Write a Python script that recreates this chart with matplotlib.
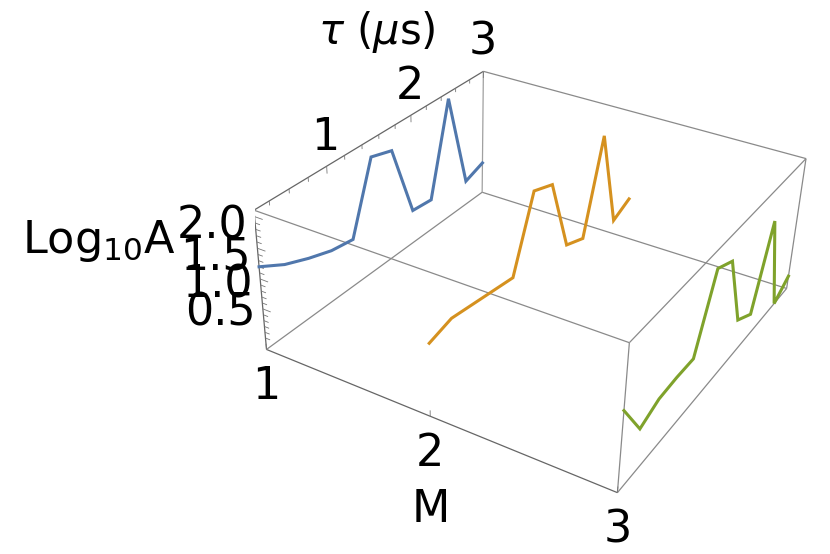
import numpy as np
import matplotlib
matplotlib.use('Agg')
import matplotlib.pyplot as plt
from mpl_toolkits.mplot3d import proj3d

# data
tau = [0.25, 0.5, 0.75, 1.0, 1.25, 1.5, 1.75, 2.0, 2.25, 2.5, 2.75, 3.0]
log_a_m1 = [1.2, 0.97, 0.81, 0.68, 0.62, 1.81, 1.7, 0.4, 0.36, 1.99, 0.25, 0.38]
log_a_m2 = [1.0, 1.1, 1.04, 0.98, 0.92, 2.09, 1.96, 0.69, 0.55, 2.11, 0.38, 0.54]
log_a_m3 = [1.1, 0.47, 0.61, 0.63, 0.62, 1.78, 1.63, 0.37, 0.18, 1.52, -0.2, 0.03]
m_values = [1, 2, 3]
line_colors = ['#5077AC', '#D5911F', '#7FA22B']

m_ticks = [1, 2, 3]
tau_major = [1, 2, 3]
tau_minor = [0.4, 0.6, 0.8, 1.2, 1.4, 1.6, 1.8, 2.2, 2.4, 2.6, 2.8]
z_major = [0.5, 1.0, 1.5, 2.0]
z_minor = [0.0, 0.1, 0.2, 0.3, 0.4, 0.6, 0.7, 0.8, 0.9, 1.1, 1.2, 1.3, 1.4,
           1.6, 1.7, 1.8, 1.9]

m_lim = (1, 3)
tau_lim = (0.25, 3)
z_lim = (-0.2, 2.1)

fig = plt.figure(figsize=(8.3, 5.54), dpi=100)
ax = fig.add_axes([0.3070, 0.0280, 0.6714, 1.0058], projection='3d')
ax.computed_zorder = False
ax.set_xlim(*m_lim)
ax.set_ylim(*tau_lim)
ax.set_zlim(*z_lim)
ax.view_init(30.905, -60.475, -2.108)
ax.set_proj_type('persp', focal_length=0.444)
ax.set_box_aspect((2.489, 2.497, 1))
ax.set_axis_off()


def seg(p, q, color='#8a8a8a', lw=0.9):
    ax.plot([p[0], q[0]], [p[1], q[1]], [p[2], q[2]], color=color, lw=lw,
            solid_capstyle='butt', zorder=1)


m0, m1 = m_lim
t0, t1 = tau_lim
z0, z1 = z_lim

# the box, edges carrying ticks are darker
seg((m0, t0, z1), (m0, t1, z1), '#666666')
seg((m0, t0, z0), (m0, t0, z1), '#666666')
seg((m0, t0, z0), (m1, t0, z0), '#666666')
seg((m0, t0, z1), (m1, t0, z1))
seg((m1, t0, z1), (m1, t1, z1))
seg((m0, t1, z1), (m1, t1, z1))
seg((m0, t0, z0), (m0, t1, z0))
seg((m1, t0, z0), (m1, t1, z0))
seg((m0, t1, z0), (m1, t1, z0))
seg((m0, t1, z0), (m0, t1, z1), '#a0a0a0')
seg((m1, t0, z0), (m1, t0, z1))
seg((m1, t1, z0), (m1, t1, z1))

# ticks
for t in tau_major:
    seg((m0, t, z1), (m0, t, z1 - 0.12), '#777777', 0.6)
for t in tau_minor:
    seg((m0, t, z1), (m0, t, z1 - 0.07), '#777777', 0.6)
for m in m_ticks:
    seg((m, t0, z0), (m, t0, z0 + 0.1), '#777777', 0.6)
for z in z_major:
    seg((m0, t0, z), (m0 + 0.05, t0, z), '#777777', 0.6)
for z in z_minor:
    seg((m0, t0, z), (m0 + 0.03, t0, z), '#777777', 0.6)

# series
for m, vals, c in zip(m_values, [log_a_m1, log_a_m2, log_a_m3], line_colors):
    ax.plot([m] * len(tau), tau, vals, color=c, lw=2.2, zorder=3,
            solid_joinstyle='miter')


def tick_label(x, y, z, text, dx, dy, ha='center'):
    px, py, _ = proj3d.proj_transform(x, y, z, ax.get_proj())
    ax.annotate(text, (px, py), xytext=(dx, dy), textcoords='offset pixels',
                ha=ha, va='center', fontsize=32, color='black')


for t in tau_major:
    tick_label(m0, t, z1, str(t), -1, 29)
for m in m_ticks:
    tick_label(m, t0, z0, str(m), 0, -37)
# the reference packs these labels a little tighter than their ticks
for z, dy in zip(z_major, [-4, -6, -9, -9]):
    tick_label(m0, t0, z, '%.1f' % z, -7, dy, ha='right')

fig.text(99 / 830, 1 - 241 / 554, 'Log$_{10}$A', fontsize=32, ha='center', va='center')
fig.text(377 / 830, 1 - 32 / 554, r'$\tau$ ($\mu$s)', fontsize=30, ha='center', va='center')
fig.text(431 / 830, 1 - 510 / 554, 'M', fontsize=32, ha='center', va='center')

fig.savefig('out.png', dpi=100)
